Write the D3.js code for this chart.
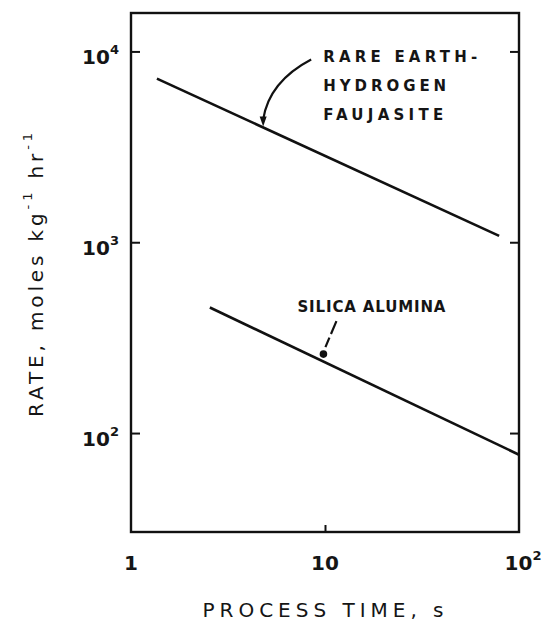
<!DOCTYPE html>
<html>
<head>
<meta charset="utf-8">
<script src="https://cdn.jsdelivr.net/npm/d3@7"></script>
<style>
  body { margin: 0; background: #fff; }
  svg { display: block; }
  text { font-family: "DejaVu Sans", sans-serif; fill: #151515; }
</style>
</head>
<body>
<svg id="chart"></svg>
<script>
// Values (log-log axes, both series are straight lines)
const reTime = [1.36, 79];      // rare earth-hydrogen faujasite, s
const reRate = [7200, 1080];    // moles kg^-1 hr^-1
const saTime = [2.55, 100];     // silica alumina
const saRate = [455, 77];

const xTicks = [1, 10, 100];
const xTickBase = ["1", "10", "10"];
const xTickExp = ["", "", "2"];
const yTicks = [100, 1000, 10000];
const yTickExp = ["2", "3", "4"];

// Globals
const width = 546;
const height = 621;
const margin = { top: 13, right: 27, bottom: 89, left: 131 };

const svg = d3.select("#chart")
  .attr("width", width)
  .attr("height", height);

// Scales
const x = d3.scaleLog().domain([1, 100]).range([margin.left, width - margin.right]);
const y = d3.scaleLog().domain([30.3, 15900]).range([height - margin.bottom, margin.top]);

// Frame
svg.append("rect")
  .attr("x", x.range()[0])
  .attr("y", y.range()[1])
  .attr("width", x.range()[1] - x.range()[0])
  .attr("height", y.range()[0] - y.range()[1])
  .attr("fill", "none")
  .attr("stroke", "#111")
  .attr("stroke-width", 2.4);

// Inward ticks
function styleAxis(g) {
  g.select(".domain").remove();
  g.selectAll(".tick line").attr("stroke", "#111").attr("stroke-width", 2);
  g.selectAll(".tick text").remove();
}

svg.append("g")
  .attr("transform", `translate(${margin.left},0)`)
  .call(d3.axisLeft(y).tickValues(yTicks).tickSizeInner(-9).tickSizeOuter(0))
  .call(styleAxis);

svg.append("g")
  .attr("transform", `translate(${width - margin.right},0)`)
  .call(d3.axisRight(y).tickValues(yTicks).tickSizeInner(-9).tickSizeOuter(0))
  .call(styleAxis);

svg.append("g")
  .attr("transform", `translate(0,${height - margin.bottom})`)
  .call(d3.axisBottom(x).tickValues([10]).tickSizeInner(-7).tickSizeOuter(0))
  .call(styleAxis);

// Tick labels (with superscript powers)
const yLab = svg.append("g").selectAll("text")
  .data(yTicks)
  .join("text")
  .attr("x", margin.left - 12)
  .attr("y", d => y(d) + 13)
  .attr("text-anchor", "end")
  .attr("font-size", 20)
  .attr("font-weight", "bold");
yLab.append("tspan").text("10");
yLab.append("tspan")
  .attr("font-size", 13)
  .attr("dy", -10)
  .text((d, i) => yTickExp[i]);

const xLab = svg.append("g").selectAll("text")
  .data(xTicks)
  .join("text")
  .attr("x", (d, i) => x(d) + (xTickExp[i] ? 4 : 0))
  .attr("y", height - margin.bottom + 38)
  .attr("text-anchor", "middle")
  .attr("font-size", 20)
  .attr("font-weight", "bold");
xLab.append("tspan").text((d, i) => xTickBase[i]);
xLab.append("tspan")
  .attr("font-size", 13)
  .attr("dy", -10)
  .text((d, i) => xTickExp[i]);

// Axis titles
svg.append("text")
  .attr("x", 323)
  .attr("y", height - 4)
  .attr("text-anchor", "middle")
  .attr("font-size", 20)
  .attr("textLength", 241)
  .attr("lengthAdjust", "spacing")
  .text("PROCESS TIME, s");

const yTitle = svg.append("text")
  .attr("transform", `translate(43,275) rotate(-90)`)
  .attr("text-anchor", "middle")
  .attr("font-size", 20)
  .attr("textLength", 284)
  .attr("lengthAdjust", "spacing");
yTitle.append("tspan").text("RATE, moles kg");
yTitle.append("tspan").attr("font-size", 13).attr("dy", -11).text("-1");
yTitle.append("tspan").attr("dy", 11).text(" hr");
yTitle.append("tspan").attr("font-size", 13).attr("dy", -11).text("-1");

// Data lines
const line = d3.line()
  .x(d => x(d[0]))
  .y(d => y(d[1]));

svg.append("path")
  .datum(d3.zip(reTime, reRate))
  .attr("fill", "none")
  .attr("stroke", "#111")
  .attr("stroke-width", 2.6)
  .attr("d", line);

svg.append("path")
  .datum(d3.zip(saTime, saRate))
  .attr("fill", "none")
  .attr("stroke", "#111")
  .attr("stroke-width", 2.6)
  .attr("d", line);

// point on a straight log-log segment
function rateAt(times, rates, t) {
  const f = (Math.log(t) - Math.log(times[0])) / (Math.log(times[1]) - Math.log(times[0]));
  return Math.exp(Math.log(rates[0]) + f * (Math.log(rates[1]) - Math.log(rates[0])));
}

// Label: rare earth-hydrogen faujasite, curved leader
const ax1 = x(4.8), ay1 = y(rateAt(reTime, reRate, 4.8));
svg.append("path")
  .attr("d", `M${ax1 + 48},${ay1 - 68} Q${ax1 + 6},${ay1 - 46} ${ax1},${ay1 - 8}`)
  .attr("fill", "none")
  .attr("stroke", "#111")
  .attr("stroke-width", 2.2);
svg.append("path")
  .attr("d", `M${ax1 - 3.5},${ay1 - 11} L${ax1 + 3.5},${ay1 - 11} L${ax1},${ay1 - 1} Z`)
  .attr("fill", "#111");

const reLines = ["RARE EARTH-", "HYDROGEN", "FAUJASITE"];
const reLens = [154, 123, 120];
svg.append("g").selectAll("text")
  .data(reLines)
  .join("text")
  .attr("x", ax1 + 60)
  .attr("y", (d, i) => ay1 - 65 + i * 29)
  .attr("font-size", 15)
  .attr("font-weight", "bold")
  .attr("textLength", (d, i) => reLens[i])
  .attr("lengthAdjust", "spacing")
  .text(d => d);

// Label: silica alumina, dashed leader
const ax2 = x(9.7), ay2 = y(rateAt(saTime, saRate, 9.7));
svg.append("line")
  .attr("x1", ax2 + 14).attr("y1", ay2 - 40)
  .attr("x2", ax2 + 3).attr("y2", ay2 - 14)
  .attr("stroke", "#111")
  .attr("stroke-width", 2.2)
  .attr("stroke-dasharray", "14,4");
svg.append("circle")
  .attr("cx", ax2 + 1)
  .attr("cy", ay2 - 7)
  .attr("r", 3.8)
  .attr("fill", "#111");

svg.append("text")
  .attr("x", ax2 - 25)
  .attr("y", ay2 - 49)
  .attr("font-size", 15)
  .attr("font-weight", "bold")
  .attr("textLength", 148)
  .attr("lengthAdjust", "spacing")
  .text("SILICA ALUMINA");
</script>
</body>
</html>
